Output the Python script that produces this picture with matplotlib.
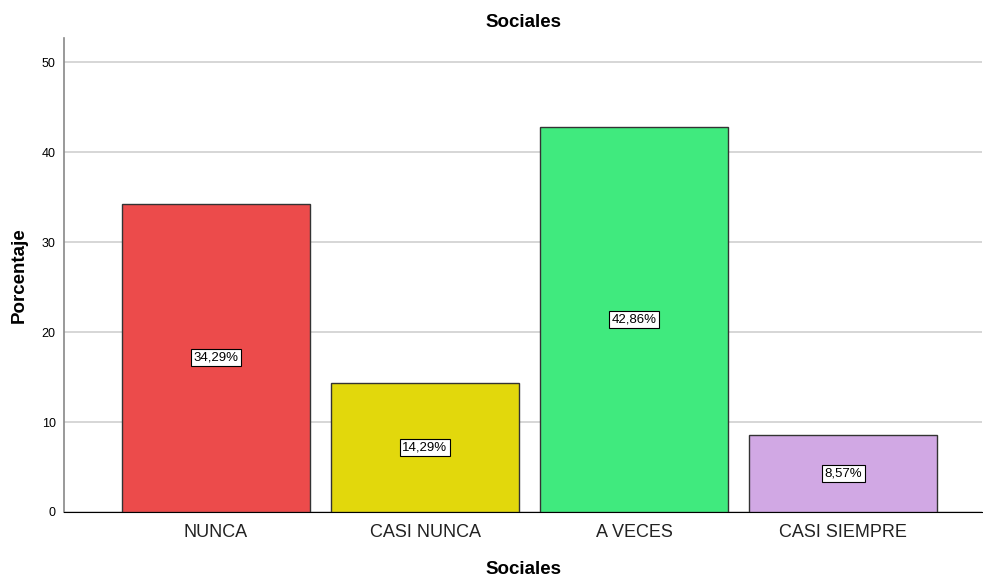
import matplotlib.pyplot as plt

plt.rcParams['font.family'] = ['Liberation Sans', 'DejaVu Sans']

categorias = ['NUNCA', 'CASI NUNCA', 'A VECES', 'CASI SIEMPRE']
porcentajes = [34.29, 14.29, 42.86, 8.57]
etiquetas = ['34,29%', '14,29%', '42,86%', '8,57%']
colores = ['#EC4B4B', '#E2D80C', '#40EA7E', '#D1A8E4']

fig = plt.figure(figsize=(9.83, 5.77), dpi=100)
ax = fig.add_axes([0.0651, 0.1127, 0.934, 0.8214])

x = list(range(len(categorias)))
ax.bar(x, porcentajes, width=0.9, color=colores, edgecolor='#333333', linewidth=1, zorder=3)

for xi, v, t in zip(x, porcentajes, etiquetas):
    ax.text(xi, v / 2, t, ha='center', va='center', fontsize=9.5, zorder=4,
            bbox=dict(boxstyle='square,pad=0.2', facecolor='white', edgecolor='black', linewidth=0.8))

ax.set_xlim(-0.727, 3.665)
ax.set_ylim(0, 52.7)
ax.set_yticks([0, 10, 20, 30, 40, 50])
ax.yaxis.grid(True, color='#d0d0d0', linewidth=1.2, zorder=0)
ax.set_axisbelow(True)

ax.set_xticks(x)
ax.set_xticklabels(categorias, fontsize=13, color='#222222')
ax.tick_params(axis='y', labelsize=9, length=0, pad=6)
ax.tick_params(axis='x', length=0, pad=9)

for s in ['top', 'right']:
    ax.spines[s].set_visible(False)
ax.spines['left'].set_color('#888888')
ax.spines['left'].set_linewidth(1.2)
ax.spines['bottom'].set_color('black')

ax.set_title('Sociales', fontsize=13.5, fontweight='bold', pad=8)
ax.set_ylabel('Porcentaje', fontsize=13.5, fontweight='bold', labelpad=10)
ax.set_xlabel('Sociales', fontsize=13.5, fontweight='bold', labelpad=14)

fig.savefig('out.png', dpi=100)
